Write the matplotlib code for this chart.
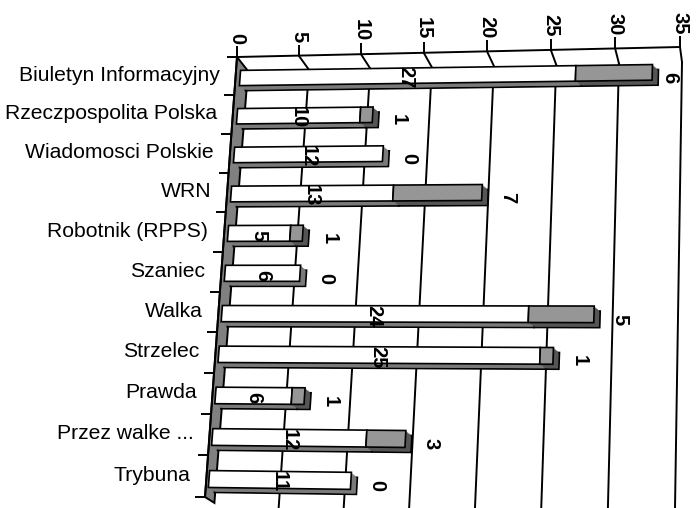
import numpy as np
import matplotlib
matplotlib.use("Agg")
import matplotlib.pyplot as plt
from matplotlib.transforms import Transform, Affine2D

# ---------------- data ----------------
categories = ["Biuletyn Informacyjny", "Rzeczpospolita Polska", "Wiadomosci Polskie", "WRN",
              "Robotnik (RPPS)", "Szaniec", "Walka", "Strzelec", "Prawda",
              "Przez walke ...", "Trybuna"]
series_a = [27, 10, 12, 13, 5, 6, 24, 25, 6, 12, 11]
series_b = [6, 1, 0, 7, 1, 0, 5, 1, 1, 3, 0]
value_ticks = [0, 5, 10, 15, 20, 25, 30, 35]

plt.rcParams['font.family'] = ['Liberation Sans', 'DejaVu Sans']


class Homography(Transform):
    """Perspective (projective) mapping of a chart plane onto figure pixels."""
    input_dims = 2
    output_dims = 2
    is_separable = False
    has_inverse = False

    def __init__(self, src, dst):
        super().__init__()
        A, b = [], []
        for (x, y), (X, Y) in zip(src, dst):
            A.append([x, y, 1, 0, 0, 0, -X * x, -X * y]); b.append(X)
            A.append([0, 0, 0, x, y, 1, -Y * x, -Y * y]); b.append(Y)
        h = np.linalg.solve(np.array(A, float), np.array(b, float))
        self.H = np.append(h, 1.0).reshape(3, 3)

    def transform_non_affine(self, values):
        v = np.asarray(values, float)
        single = v.ndim == 1
        v = v.reshape(-1, 2)
        p = np.column_stack([v, np.ones(len(v))]) @ self.H.T
        out = p[:, :2] / p[:, 2:3]
        return out[0] if single else out


fig = plt.figure(figsize=(6.97, 5.08), dpi=100)
ax = fig.add_axes([0, 0, 1, 1])

n = len(categories)
rows = np.arange(n)
vmax = value_ticks[-1]

# planes of the 3-D view (value, row) -> pixel
F = Homography([(0, 0), (vmax, 0), (0, n - 1), (vmax, n - 1)],
               [(240, 78), (678, 72), (209, 479), (670, 485)])        # bar fronts
C = Homography([(0, 0), (vmax, 0), (0, n), (vmax, n)],
               [(237, 57), (680, 47), (205, 497), (668, 500)])        # back edges / axes
G = Homography([(0, 0), (vmax, 0), (0, 1), (vmax, 1)],
               [(248, 71), (682, 62), (214, 508), (675, 508)])        # grid wall

td = ax.transData
tF = F + td
tC = C + td
tG = G + td

LW = 1.4

# gridlines on the wall + depth lines on the top face
for v in value_ticks[1:]:
    ax.plot([v, v], [0, 1.05], transform=tG, color='k', lw=LW, zorder=1,
            solid_capstyle='butt')
    p0 = C.transform(np.array([[v, 0]]))[0]
    p1 = G.transform(np.array([[v, 0]]))[0]
    ax.plot([p0[0], p1[0]], [p0[1], p1[1]], color='k', lw=LW, zorder=1)

# top value axis line, ticks and labels
ax.plot([0, vmax], [0, 0], transform=tC, color='k', lw=LW, zorder=2)
ax.plot(value_ticks, np.zeros(len(value_ticks)), transform=tC, ls='none',
        marker=2, ms=8, mew=LW, color='k', zorder=2)
tlab = C + Affine2D().translate(0, -13) + td
for v in value_ticks:
    ax.text(v, 0, str(v), transform=tlab, rotation=-90, ha='center', va='bottom',
            fontsize=14.5, fontweight='bold', zorder=6)

# left (zero) wall
wall_pts = np.vstack([C.transform(np.array([[0, 0]])),
                      G.transform(np.array([[0, 0]])),
                      G.transform(np.array([[0, 0.989]])),
                      C.transform(np.array([[0, n]]))])
ax.fill(wall_pts[:, 0], wall_pts[:, 1], facecolor='#808080', edgecolor='k',
        lw=LW, zorder=2)

# category axis line, ticks, labels
ax.plot([0, 0], [0, n], transform=tC, color='k', lw=LW, zorder=2)
ax.plot(np.zeros(n + 1), np.arange(n + 1), transform=tC, ls='none',
        marker=0, ms=7.5, mew=LW, color='k', zorder=2)
tcat = C + Affine2D().translate(-16, -1) + td
for i, cat in enumerate(categories):
    ax.text(0, i + 0.5, cat, transform=tcat, ha='right', va='center',
            fontsize=15.2, zorder=6)

# bars (3-D extrusion then front faces)
h = 0.4
lefts_b = series_a
segments = [(np.zeros(n), series_a, '#ffffff', '#7a7a7a'),
            (lefts_b, series_b, '#969696', '#555555')]
for left, width, face, side in segments:
    for t in [1.0, 0.8, 0.6, 0.4, 0.2]:
        T = F + Affine2D().translate(6 * t, 5 * t) + td
        bars = ax.barh(rows, width, left=left, height=h, color=side,
                       edgecolor='k' if t == 1.0 else 'none',
                       lw=1.2 if t == 1.0 else 0, zorder=3)
        for rect, w in zip(bars, width):
            rect.set_transform(T)
            if w == 0:
                rect.set_visible(False)
for left, width, face, side in segments:
    bars = ax.barh(rows, width, left=left, height=h, color=face,
                   edgecolor='k', lw=1.2, zorder=4)
    for rect, w in zip(bars, width):
        rect.set_transform(tF)
        if w == 0:
            rect.set_visible(False)

# data labels
tin = F + Affine2D().translate(0, 2) + td
for i in range(n):
    ax.text(series_a[i] / 2, i, str(series_a[i]), transform=tin, rotation=-90,
            ha='center', va='center', fontsize=14.5, fontweight='bold', zorder=5)
    end_x = F.transform(np.array([[series_a[i] + series_b[i], i]]))[0][0]
    dx = min(26, 670 - end_x)
    tout = F + Affine2D().translate(dx, 5) + td
    ax.text(series_a[i] + series_b[i], i, str(series_b[i]), transform=tout,
            rotation=-90, ha='center', va='center', fontsize=14.5,
            fontweight='bold', zorder=5)

ax.set_xlim(0, 697)
ax.set_ylim(508, 0)
ax.axis('off')

fig.savefig('out.png', dpi=100)
